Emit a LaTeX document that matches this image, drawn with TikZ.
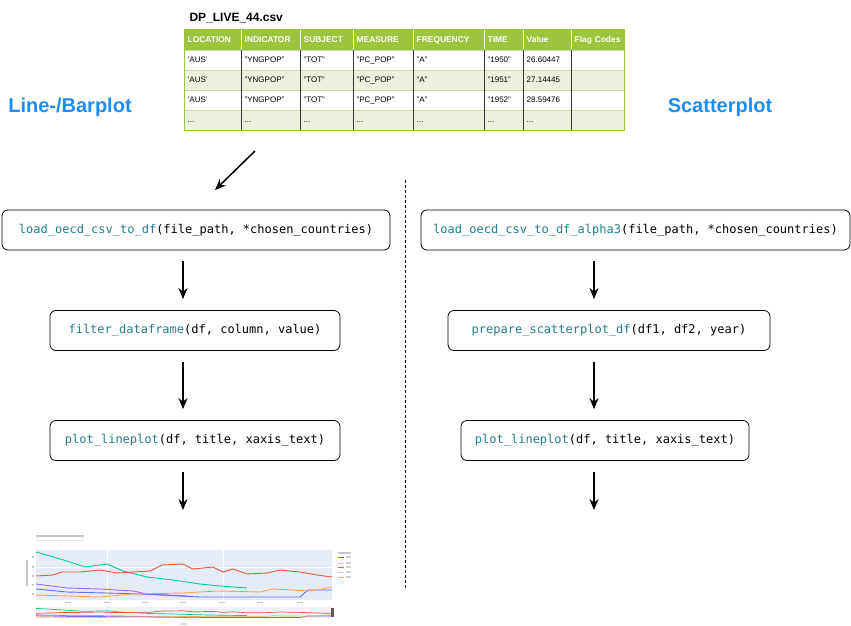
\documentclass[tikz,border=0pt]{standalone}
\usepackage{xcolor}
\usepackage{fontspec}
\setsansfont{Liberation Sans}
\newfontfamily\codefont{DejaVu Sans Mono}
\usepackage{tikz}
\usetikzlibrary{arrows.meta, positioning, matrix, calc}

\definecolor{titleblue}{HTML}{1C8EF9}
\definecolor{fncol}{HTML}{237C8C}
\definecolor{headgreen}{HTML}{9BC53D}
\definecolor{rowgreen}{HTML}{EBF1DA}
\definecolor{rowline}{HTML}{C9DBA5}
\definecolor{plotbg}{HTML}{E5ECF6}
\definecolor{pgreen}{HTML}{00CC96}
\definecolor{pred}{HTML}{EF553B}
\definecolor{ppurple}{HTML}{AB63FA}
\definecolor{pblue}{HTML}{636EFA}
\definecolor{porange}{HTML}{FFA15A}

\newcommand\sq{\symbol{39}}
\newcommand\dq{\symbol{34}}
\newcommand\fnname[1]{\textcolor{fncol}{#1}}

% traces of the small line plot (in pixels of the page)
\newcommand\greentrace{(36,552) -- (67,561) -- (85,567) -- (107,564) -- (123,571) -- (147,577) -- (173,580) -- (200,584) -- (220,586) -- (247,588)}
\newcommand\redtrace{(36,576) -- (53,575) -- (62,572) -- (80,572) -- (100,570) -- (117,573) -- (150,571) -- (162,565) -- (183,564) -- (193,569) -- (213,567) -- (223,572) -- (233,569) -- (247,574) -- (267,573) -- (280,570) -- (300,572) -- (317,575) -- (332,577)}
\newcommand\purpletrace{(36,584) -- (67,588) -- (100,589) -- (133,591) -- (147,594) -- (167,595) -- (187,596)}
\newcommand\bluetrace{(36,589) -- (67,592) -- (107,593) -- (140,594) -- (200,597) -- (233,597) -- (300,597) -- (308,590) -- (332,590)}
\newcommand\orangetrace{(36,595) -- (100,597) -- (133,594) -- (183,593) -- (217,591) -- (260,592) -- (273,589) -- (310,591) -- (332,587)}

\begin{document}
\begin{tikzpicture}[x=1pt, y=-1pt, >={Stealth[length=11pt, width=9pt]},
  fnbox/.style={draw, rounded corners=6pt, line width=0.8pt, minimum height=40pt,
    font=\codefont\fontsize{12}{14}\selectfont},
  flow/.style={->, line width=1.5pt},
  plottitle/.style={font=\sffamily\bfseries\fontsize{20}{24}\selectfont, text=titleblue},
  cell/.style={minimum height=20pt, text height=6.2pt, text depth=1.8pt, inner xsep=3.5pt,
    inner ysep=0pt, align=left, font=\sffamily\fontsize{8}{9}\selectfont},
  head/.style={fill=headgreen, text=white, font=\sffamily\bfseries\fontsize{8.4}{9}\selectfont},
  trace/.style={line width=0.9pt},
  smudge/.style={line width=1.4pt, gray!45}]
\useasboundingbox (0,0) rectangle (851,626);

% csv table
\node[anchor=west, font=\sffamily\bfseries\fontsize{12}{14}\selectfont] (csvname) at (186,18) {DP\_LIVE\_44.csv};
\matrix (csv) [matrix of nodes, nodes in empty cells, anchor=north west, inner sep=0pt,
  column sep=0pt, row sep=0pt,
  nodes={cell},
  row 1/.style={nodes={head}},
  row 3/.style={nodes={fill=rowgreen}},
  row 5/.style={nodes={fill=rowgreen}},
  column 1/.style={nodes={text width=50pt}},
  column 2/.style={nodes={text width=52pt}},
  column 3/.style={nodes={text width=46pt}},
  column 4/.style={nodes={text width=53pt}},
  column 5/.style={nodes={text width=64pt}},
  column 6/.style={nodes={text width=32pt}},
  column 7/.style={nodes={text width=41pt}},
  column 8/.style={nodes={text width=46pt}}] at (184,30) {
  LOCATION & INDICATOR & SUBJECT & MEASURE & FREQUENCY & TIME & Value & \mbox{Flag Codes} \\
  \sq AUS\sq & \dq YNGPOP\dq & \dq TOT\dq & \dq PC\_POP\dq & \dq A\dq & \dq 1950\dq & 26.60447 & \\
  \sq AUS\sq & \dq YNGPOP\dq & \dq TOT\dq & \dq PC\_POP\dq & \dq A\dq & \dq 1951\dq & 27.14445 & \\
  \sq AUS\sq & \dq YNGPOP\dq & \dq TOT\dq & \dq PC\_POP\dq & \dq A\dq & \dq 1952\dq & 28.59476 & \\
  ... & ... & ... & ... & ... & ... & ... & \\
};
\foreach \r in {2,...,5}
  \draw[rowline, line width=0.8pt] (csv-\r-1.north west) -- (csv-\r-8.north east);
\foreach \c in {2,...,8} {
  \draw[white, line width=0.8pt] (csv-1-\c.north west) -- (csv-1-\c.south west);
  \draw[black!80, line width=0.7pt] (csv-2-\c.north west) -- (csv-5-\c.south west);
}
\draw[headgreen, line width=1pt] (csv-1-1.north west) rectangle (csv-5-8.south east);

% section titles
\node[plottitle] (linetitle) at (70,107) {Line-/Barplot};
\node[plottitle] (scattitle) at (720,107) {Scatterplot};

\coordinate (csvout) at (255,151);
\coordinate (csvin) at (215,190);
\draw[flow] (csvout) -- (csvin);

\draw[line width=0.6pt, dash pattern=on 3pt off 2pt] (405,180) -- (405,590);

% line-/barplot branch
\node[fnbox, minimum width=388pt] (load) at (196,230)
  {\fnname{load\_oecd\_csv\_to\_df}(file\_path, *chosen\_countries)};
\node[fnbox, minimum width=290pt] (filt) at (195,330.5)
  {\fnname{filter\_dataframe}(df, column, value)};
\node[fnbox, minimum width=290pt] (lplot) at (195,440.5)
  {\fnname{plot\_lineplot}(df, title, xaxis\_text)};
\coordinate (lx) at (183,0);
\coordinate (lend) at (183,510);
\draw[flow] ($(load.south -| lx)+(0,11)$) -- ($(filt.north -| lx)+(0,-11)$);
\draw[flow] ($(filt.south -| lx)+(0,11)$) -- ($(lplot.north -| lx)+(0,-11)$);
\draw[flow] ($(lplot.south -| lx)+(0,11)$) -- (lend);

% scatterplot branch
\node[fnbox, minimum width=429pt] (loada) at (635.5,230)
  {\fnname{load\_oecd\_csv\_to\_df\_alpha3}(file\_path, *chosen\_countries)};
\node[fnbox, minimum width=322pt] (prep) at (609,330.5)
  {\fnname{prepare\_scatterplot\_df}(df1, df2, year)};
\node[fnbox, minimum width=288pt] (splot) at (605,440.5)
  {\fnname{plot\_lineplot}(df, title, xaxis\_text)};
\coordinate (rx) at (594,0);
\coordinate (rend) at (594,510);
\draw[flow] ($(loada.south -| rx)+(0,11)$) -- ($(prep.north -| rx)+(0,-11)$);
\draw[flow] ($(prep.south -| rx)+(0,11)$) -- ($(splot.north -| rx)+(0,-11)$);
\draw[flow] ($(splot.south -| rx)+(0,11)$) -- (rend);

% small line plot screenshot
\fill[plotbg] (36,550) rectangle (332,600);
\draw[white, line width=0.8pt] (107,550) -- (107,600) (223,550) -- (223,600) (36,567) -- (332,567);
\draw[trace, pgreen] \greentrace;
\draw[trace, pred] \redtrace;
\draw[trace, ppurple] \purpletrace;
\draw[trace, pblue] \bluetrace;
\draw[trace, porange] \orangetrace;
\draw[smudge] (36,536) -- (84,536);
\draw[smudge, gray!20] (36,540.5) -- (84,540.5);
\draw[smudge] (27,560) -- (27,586);
\foreach \ty in {557,567,576,585,594}
  \draw[smudge] (32,\ty) -- (34,\ty);
\foreach \tx in {68,107,145,183,222,260,300}
  \draw[smudge] (\tx-3,602.5) -- (\tx+3,602.5);
\draw[smudge, gray!30] (180,624) -- (187,624);
% range slider
\fill[plotbg!70] (36,607) rectangle (332,618);
\begin{scope}[shift={(0,498)}, y=-0.2pt]
  \draw[trace, line width=0.7pt, pgreen] \greentrace;
  \draw[trace, line width=0.7pt, pred] \redtrace;
  \draw[trace, line width=0.7pt, ppurple] \purpletrace;
  \draw[trace, line width=0.7pt, pblue] \bluetrace;
  \draw[trace, line width=0.7pt, porange] \orangetrace;
\end{scope}
\fill[gray!70!black] (331,608) rectangle (333.5,617);
% legend
\draw[smudge] (338,553) -- (351,553);
\foreach \ly/\lc in {557/pblue, 563/pred!40, 567/pred, 572/ppurple!40, 577/porange} {
  \draw[\lc, line width=0.9pt] (338,\ly) -- (344,\ly);
  \draw[smudge, gray!35] (346,\ly) -- (351,\ly);
}
\end{tikzpicture}
\end{document}
